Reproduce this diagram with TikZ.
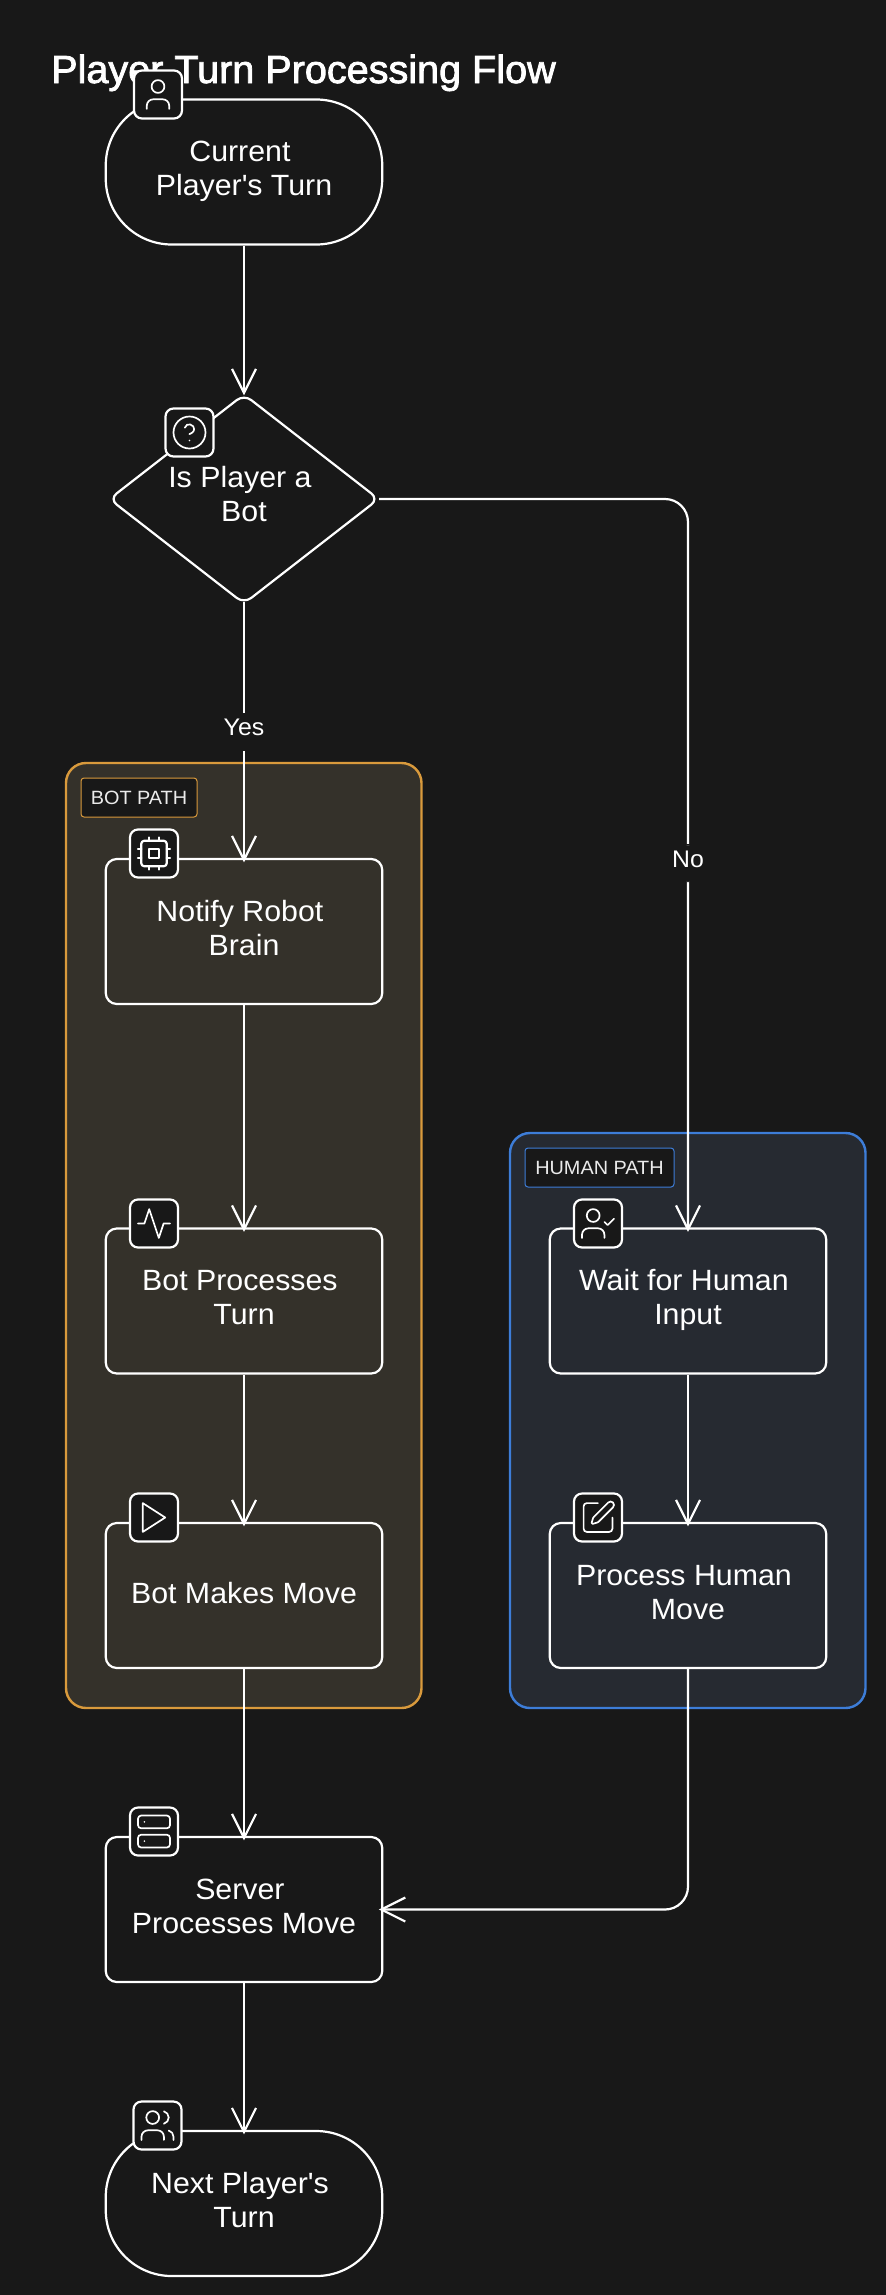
\documentclass[tikz,border=0pt]{standalone}
\usepackage{fontspec}
\setmainfont[FakeStretch=1.035]{Liberation Sans}
\newfontfamily\titlefont[FakeBold=2,FakeStretch=1.01]{Liberation Sans}
\usetikzlibrary{arrows.meta,shapes.geometric}
\definecolor{bgc}{HTML}{181818}
\definecolor{botfill}{HTML}{34312A}
\definecolor{botline}{HTML}{D99A3C}
\definecolor{humfill}{HTML}{262A31}
\definecolor{humline}{HTML}{3D7DD8}
\newcommand{\twoline}[2]{\rule{0pt}{22pt}#1\\#2\\[-25pt]\mbox{}}
\newcommand{\tsp}{\kern.278em}
\newcommand{\glyph}[2]{\begin{scope}[shift={(#1.center)},x=1.6pt,y=-1.6pt,shift={(-12,-12)},line width=1.7pt,draw=white,line cap=round,line join=round]#2\end{scope}}
\tikzset{
  box/.style={draw=white,line width=2.2pt,rounded corners=11pt,minimum width=276.5pt,minimum height=145pt,inner sep=0pt,align=center,text=white,font=\fontsize{29.3}{34}\selectfont},
  terminal/.style={box,rounded corners=66pt,fill=bgc},
  group/.style={line width=2.4pt,rounded corners=20pt},
  tag/.style={line width=1pt,rounded corners=3pt,fill=bgc,text=white!92!black,inner sep=0pt,font=\fontsize{19.2}{22}\selectfont,minimum height=39pt,text height=13.5pt,text depth=0pt},
  iconbox/.style={draw=white,line width=2.2pt,rounded corners=8pt,fill=bgc,minimum size=48pt,inner sep=0pt},
  flow/.style={draw=white,line width=2.2pt,shorten >=-4.5pt,-{Straight Barb[length=24pt,width=24pt,line width=2.2pt]}},
  edgelabel/.style={fill=bgc,text=white,inner xsep=1pt,inner ysep=0pt,minimum height=38pt,text height=17pt,text depth=9pt,font=\fontsize{24}{28}\selectfont},
}
\begin{document}
\begin{tikzpicture}[x=1pt,y=-1pt]
\useasboundingbox (0,0) rectangle (886,2295);
\fill[bgc] (0,0) rectangle (886,2295);
\node[anchor=base west,inner sep=0pt,text=white,font=\titlefont\fontsize{39.2}{44}\selectfont] (title) at (51,83) {Player Turn Processing Flow};
% groups
\path[group,draw=botline,fill=botfill] (66,763) rectangle (421.5,1708);
\path[group,draw=humline,fill=humfill] (510,1133) rectangle (865.5,1708);
\node[tag,draw=botline,minimum width=116pt] (bottag) at (139,797.5) {BOT PATH};
\node[tag,draw=humline,minimum width=149pt] (humtag) at (599.5,1167.5) {HUMAN PATH};
% nodes
\node[terminal] (start) at (244,172) {\twoline{Current\tsp}{Player\textquotesingle s Turn}};
\node[diamond,draw=white,line width=2.2pt,rounded corners=9pt,fill=bgc,shape aspect=1.28,minimum width=270pt,minimum height=210pt,inner sep=0pt,align=center,text=white,font=\fontsize{29.3}{34}\selectfont] (decision) at (244,499) {\rule{0pt}{22pt}Is Player a\tsp\\Bot\\[-22pt]\mbox{}};
\node[box,fill=botfill] (notify) at (244,931.5) {\twoline{Notify Robot\tsp}{Brain}};
\node[box,fill=botfill] (botproc) at (244,1301) {\twoline{Bot Processes\tsp}{Turn}};
\node[box,fill=botfill,text height=22pt,text depth=7pt] (makes) at (244,1595.5) {Bot Makes Move};
\node[box,fill=humfill] (wait) at (688,1301) {\twoline{Wait for Human\tsp}{Input}};
\node[box,fill=humfill] (phuman) at (688,1595.5) {\twoline{Process Human\tsp}{Move}};
\node[box,fill=bgc] (server) at (244,1909.5) {\twoline{Server\tsp}{Processes Move}};
\node[terminal] (next) at (244,2203.5) {\twoline{Next Player\textquotesingle s\tsp}{Turn}};
% connectors
\draw[flow,shorten >=-2.5pt] (start) -- (decision);
\draw[flow,shorten <=-3pt] (decision) -- node[edgelabel,pos=.5] (yes) {Yes} (notify);
\draw[flow,shorten <=-1pt,rounded corners=23pt] (decision.east) -| node[edgelabel,pos=.75] (no) {No} (wait.north);
\draw[flow] (notify) -- (botproc);
\draw[flow] (botproc) -- (makes);
\draw[flow] (wait) -- (phuman);
\draw[flow] (makes) -- (server);
\draw[flow,rounded corners=23pt] (phuman.south) |- (server.east);
\draw[flow] (server) -- (next);
% icon badges
\node[iconbox] (i1) at (158,94.5) {};
\node[iconbox] (i2) at (189.5,432.5) {};
\node[iconbox] (i3) at (154,853.5) {};
\node[iconbox] (i4) at (154,1223.5) {};
\node[iconbox] (i5) at (154,1517.5) {};
\node[iconbox] (i6) at (598,1223.5) {};
\node[iconbox] (i7) at (598,1517.5) {};
\node[iconbox] (i8) at (154,1831.5) {};
\node[iconbox] (i9) at (157.5,2125.5) {};
% user
\glyph{i1}{\draw (12,7) circle[radius=6.4pt];
 \draw (5,21) -- (5,19) .. controls (5,16.79) and (6.79,15) .. (9,15) -- (15,15) .. controls (17.21,15) and (19,16.79) .. (19,19) -- (19,21);}
% help
\glyph{i2}{\draw (12,12) circle[radius=16pt];
 \draw (9.09,9) .. controls (9.6,7.2) and (11.2,6.6) .. (12.5,7) .. controls (14,7.4) and (15,8.6) .. (14.92,10) .. controls (14.92,12) and (11.92,13) .. (11.92,13);
 \fill[white] (12,17) circle[radius=.9pt];}
% cpu
\glyph{i3}{\begin{scope}[line width=2.2pt]
 \draw[rounded corners=3.2pt] (4,4) rectangle (20,20);
 \draw (9,9) rectangle (15,15);
 \foreach \a in {9,15}{\draw (\a,2) -- (\a,4); \draw (\a,20) -- (\a,22); \draw (2,\a) -- (4,\a); \draw (20,\a) -- (22,\a);}
 \end{scope}}
% activity
\glyph{i4}{\draw (2,12) -- (6,12) -- (9,3) -- (15,21) -- (18,12) -- (22,12);}
% play
\glyph{i5}{\draw (5,3) -- (19,12) -- (5,21) -- cycle;}
% user-check
\glyph{i6}{\draw (9,7) circle[radius=6.4pt];
 \draw (2,21) -- (2,19) .. controls (2,16.79) and (3.79,15) .. (6,15) -- (12,15) .. controls (14.21,15) and (16,16.79) .. (16,19) -- (16,21);
 \draw (16,11) -- (18,13) -- (22,9);}
% square-pen
\glyph{i7}{\draw (12,3) -- (5,3) .. controls (3.9,3) and (3,3.9) .. (3,5) -- (3,19) .. controls (3,20.1) and (3.9,21) .. (5,21) -- (19,21) .. controls (20.1,21) and (21,20.1) .. (21,19) -- (21,12);
 \draw (18.375,2.625) .. controls (19.2,1.8) and (20.5,1.8) .. (21.375,2.625) .. controls (22.2,3.5) and (22.2,4.8) .. (21.375,5.625) -- (12.362,14.639) .. controls (12.1,14.9) and (11.8,15.05) .. (11.509,15.144) -- (8.636,15.984) .. controls (8.2,16.1) and (7.9,15.8) .. (8.016,15.364) -- (8.856,12.491) .. controls (8.95,12.2) and (9.1,11.9) .. (9.362,11.639) -- cycle;}
% server
\glyph{i8}{\draw[rounded corners=3.2pt] (2,2) rectangle (22,10);
 \draw[rounded corners=3.2pt] (2,14) rectangle (22,22);
 \fill[white] (6,6) circle[radius=.9pt]; \fill[white] (6,18) circle[radius=.9pt];}
% users
\glyph{i9}{\draw (9,7) circle[radius=6.4pt];
 \draw (2,21) -- (2,19) .. controls (2,16.79) and (3.79,15) .. (6,15) -- (12,15) .. controls (14.21,15) and (16,16.79) .. (16,19) -- (16,21);
 \draw (22,21) -- (22,19) .. controls (22,17.2) and (20.8,15.6) .. (19,15.13);
 \draw (16,3.13) .. controls (17.8,3.6) and (19,5.2) .. (19,7) .. controls (19,8.8) and (17.8,10.4) .. (16,10.88);}
\end{tikzpicture}
\end{document}
